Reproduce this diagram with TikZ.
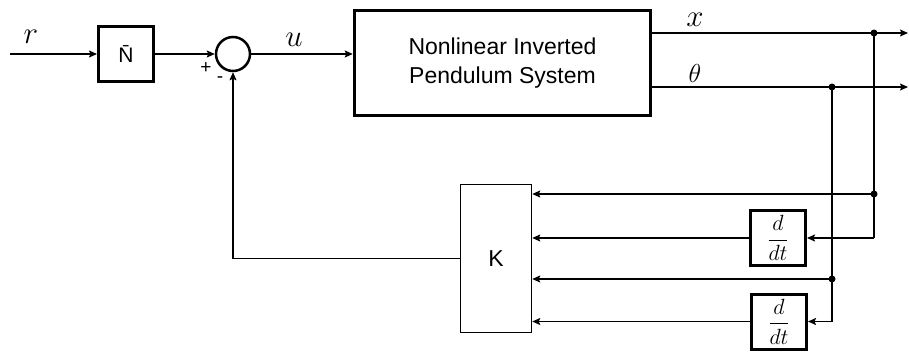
\RequirePackage{fix-cm}
\documentclass[tikz,border=0pt]{standalone}
\usepackage{amsmath}
\usepackage{fontspec}
\newfontfamily\arialf{Liberation Sans}
\usetikzlibrary{arrows.meta}
\tikzset{
  blk/.style={draw, line width=3pt, inner sep=0pt},
  thinblk/.style={draw, line width=1.5pt, inner sep=0pt},
  wire/.style={line width=1.5pt},
  arr/.style={wire, -{Stealth[length=8pt,width=7pt,inset=1.5pt]}},
  jdot/.style={circle, fill, inner sep=0pt, minimum size=7pt},
  mlbl/.style={inner sep=0pt, font=\fontsize{31}{31}\selectfont},
  slbl/.style={inner sep=0pt, font=\arialf\fontsize{19}{19}\selectfont},
  ddt/.style={blk, minimum width=55pt, minimum height=55pt, font=\fontsize{22}{22}\selectfont}
}
\begin{document}
\begin{tikzpicture}[x=1pt,y=-1pt]
\useasboundingbox (0,0) rectangle (909,351);
% blocks
\node[blk, minimum width=55pt, minimum height=55pt, font=\arialf\fontsize{21}{21}\selectfont] (nbar) at (126,54) {\=N};
\node[draw, circle, line width=2.5pt, minimum size=34pt, inner sep=0pt] (sum) at (233,54) {};
\node[blk, line width=3.5pt, minimum width=296pt, minimum height=105pt, align=center,
      font=\arialf\fontsize{23}{29}\selectfont] (plant) at (502.5,63) {Nonlinear Inverted\\Pendulum System};
\node[thinblk, minimum width=71pt, minimum height=148pt, font=\arialf\fontsize{23}{23}\selectfont] (K) at (496,258.5) {K};
\node[ddt] (d1) at (778,238) {$\dfrac{d}{dt}$};
\node[ddt] (d2) at (779,321.5) {$\dfrac{d}{dt}$};
% coordinates
\coordinate (rin) at (10,54);
\coordinate (xdot) at (874,33);
\coordinate (xend) at (908,33);
\coordinate (thdot) at (832,87);
\coordinate (thend) at (908,87);
\coordinate (xdot2) at (874,194);
\coordinate (thdot2) at (832,279);
\coordinate (xcorner) at (874,238);
\coordinate (thcorner) at (832,321.5);
% forward path
\draw[arr] (rin) -- (nbar.west);
\draw[arr] (nbar.east) -- (sum.west);
\draw[arr] (sum.east) -- (plant.west |- sum.east);
\draw[arr] (plant.east |- xdot) -- (xend);
\draw[arr] (plant.east |- thdot) -- (thend);
% feedback branches
\draw[wire] (xdot) -- (xcorner);
\draw[wire] (thdot) -- (thcorner);
\draw[arr] (xdot2) -- (K.east |- xdot2);
\draw[arr] (xcorner) -- (d1.east);
\draw[arr] (d1.west) -- (K.east |- d1.west);
\draw[arr] (thdot2) -- (K.east |- thdot2);
\draw[arr] (thcorner) -- (d2.east);
\draw[arr] (d2.west) -- (K.east |- d2.west);
\draw[arr] (K.west) -| (sum.south);
% junction dots
\node[jdot] at (xdot) {};
\node[jdot] at (thdot) {};
\node[jdot] at (xdot2) {};
\node[jdot] at (thdot2) {};
% labels
\node[mlbl] (lr) at (31,37) {$r$};
\node[mlbl] (lu) at (294,40) {$u$};
\node[mlbl] (lx) at (695,20) {$x$};
\node[mlbl, font=\fontsize{26}{26}\selectfont] (lth) at (695,73) {$\theta$};
\node[slbl] (lp) at (206,68) {+};
\node[slbl] (lm) at (220,80) {-};
\end{tikzpicture}
\end{document}
